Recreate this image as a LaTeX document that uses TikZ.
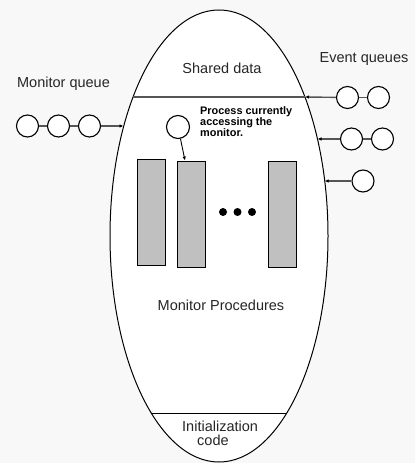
\documentclass[tikz,border=0pt]{standalone}
\usepackage{fontspec}
\setmainfont{Liberation Sans}
\usetikzlibrary{shapes.geometric,arrows.meta}
\definecolor{bgc}{RGB}{248,248,248}
\definecolor{linec}{RGB}{85,85,85}
\definecolor{procfill}{RGB}{192,192,192}
\tikzset{
  qcirc/.style={circle,draw=black,fill=white,line width=1.1bp,minimum size=22bp,inner sep=0pt},
  qlink/.style={draw=linec,line width=1.4bp},
  qarrow/.style={draw=linec,line width=1.4bp,-{Latex[length=4bp,width=3.5bp,black]}},
  procbox/.style={draw=black,fill=procfill,line width=0.9bp,minimum width=28bp,minimum height=106bp,inner sep=0pt},
  bigtext/.style={font=\fontsize{14.5bp}{14.3bp}\selectfont,inner sep=0pt,text=black!85},
  smalltext/.style={font=\fontsize{10.9bp}{11bp}\selectfont\bfseries,inner sep=0pt,align=left},
  dot/.style={circle,fill=black,minimum size=8bp,inner sep=0pt}
}
\begin{document}
\begin{tikzpicture}[x=1bp,y=-1bp]
\fill[bgc] (0,0) rectangle (415,463);
\useasboundingbox (0,0) rectangle (415,463);
% monitor ellipse
\node[ellipse,draw=black,fill=white,line width=1bp,minimum width=218bp,minimum height=452bp,inner sep=0pt] (E) at (219,236) {};
% points on ellipse border
\coordinate (sdL) at (133,97);
\coordinate (sdR) at (305,97);
\coordinate (inL) at (151.5,413);
\coordinate (inR) at (286.5,413);
\coordinate (mqT) at (123.5,126);
\coordinate (e2T) at (317.5,139);
\coordinate (e3T) at (324.7,181);
% section lines
\draw[linec,line width=2bp] (sdL) -- (sdR);
\draw[black,line width=0.9bp] (inL) -- (inR);
% texts
\node[bigtext,anchor=base] (tsd) at (222,74) {Shared data};
\node[bigtext,anchor=base] (tmq) at (63.5,88) {Monitor queue};
\node[bigtext,anchor=base] (teq) at (364,63) {Event queues};
\node[bigtext,anchor=base] (tmp) at (221,310) {Monitor Procedures};
\node[bigtext,anchor=north west,align=left] (tin) at (182,420.3) {Initialization\\\hspace*{15bp}code};
\node[smalltext,anchor=north west] (tpc) at (200,106.2) {Process currently\\accessing the\\monitor.};
% monitor queue
\node[qcirc] (q1) at (27.5,126) {};
\node[qcirc] (q2) at (58.5,126) {};
\node[qcirc] (q3) at (89.5,126) {};
\draw[qlink] (q1) -- (q2);
\draw[qlink] (q2) -- (q3);
\draw[qarrow] (q3) -- (mqT);
% event queues
\node[qcirc] (a1) at (347.5,97.5) {};
\node[qcirc] (a2) at (378.5,97.5) {};
\draw[qlink] (a1) -- (a2);
\draw[qarrow] (a1) -- (sdR);
\node[qcirc] (b1) at (351.5,139) {};
\node[qcirc] (b2) at (382.5,139) {};
\draw[qlink] (b1) -- (b2);
\draw[qarrow] (b1) -- (e2T);
\node[qcirc] (c1) at (363,181) {};
\draw[qarrow] (c1) -- (e3T);
% procedures
\node[procbox] (r1) at (151,212) {};
\node[procbox] (r2) at (191,214) {};
\node[procbox] (r3) at (282,214.5) {};
\node[dot] (d1) at (223,212) {};
\node[dot] (d2) at (237.5,212) {};
\node[dot] (d3) at (252,212) {};
% current process
\node[qcirc,minimum size=23bp] (p) at (178,127) {};
\draw[line width=0.9bp,-{Latex[length=4bp,width=3.5bp]}] (p) -- ([xshift=-6bp]r2.north);
\end{tikzpicture}
\end{document}
